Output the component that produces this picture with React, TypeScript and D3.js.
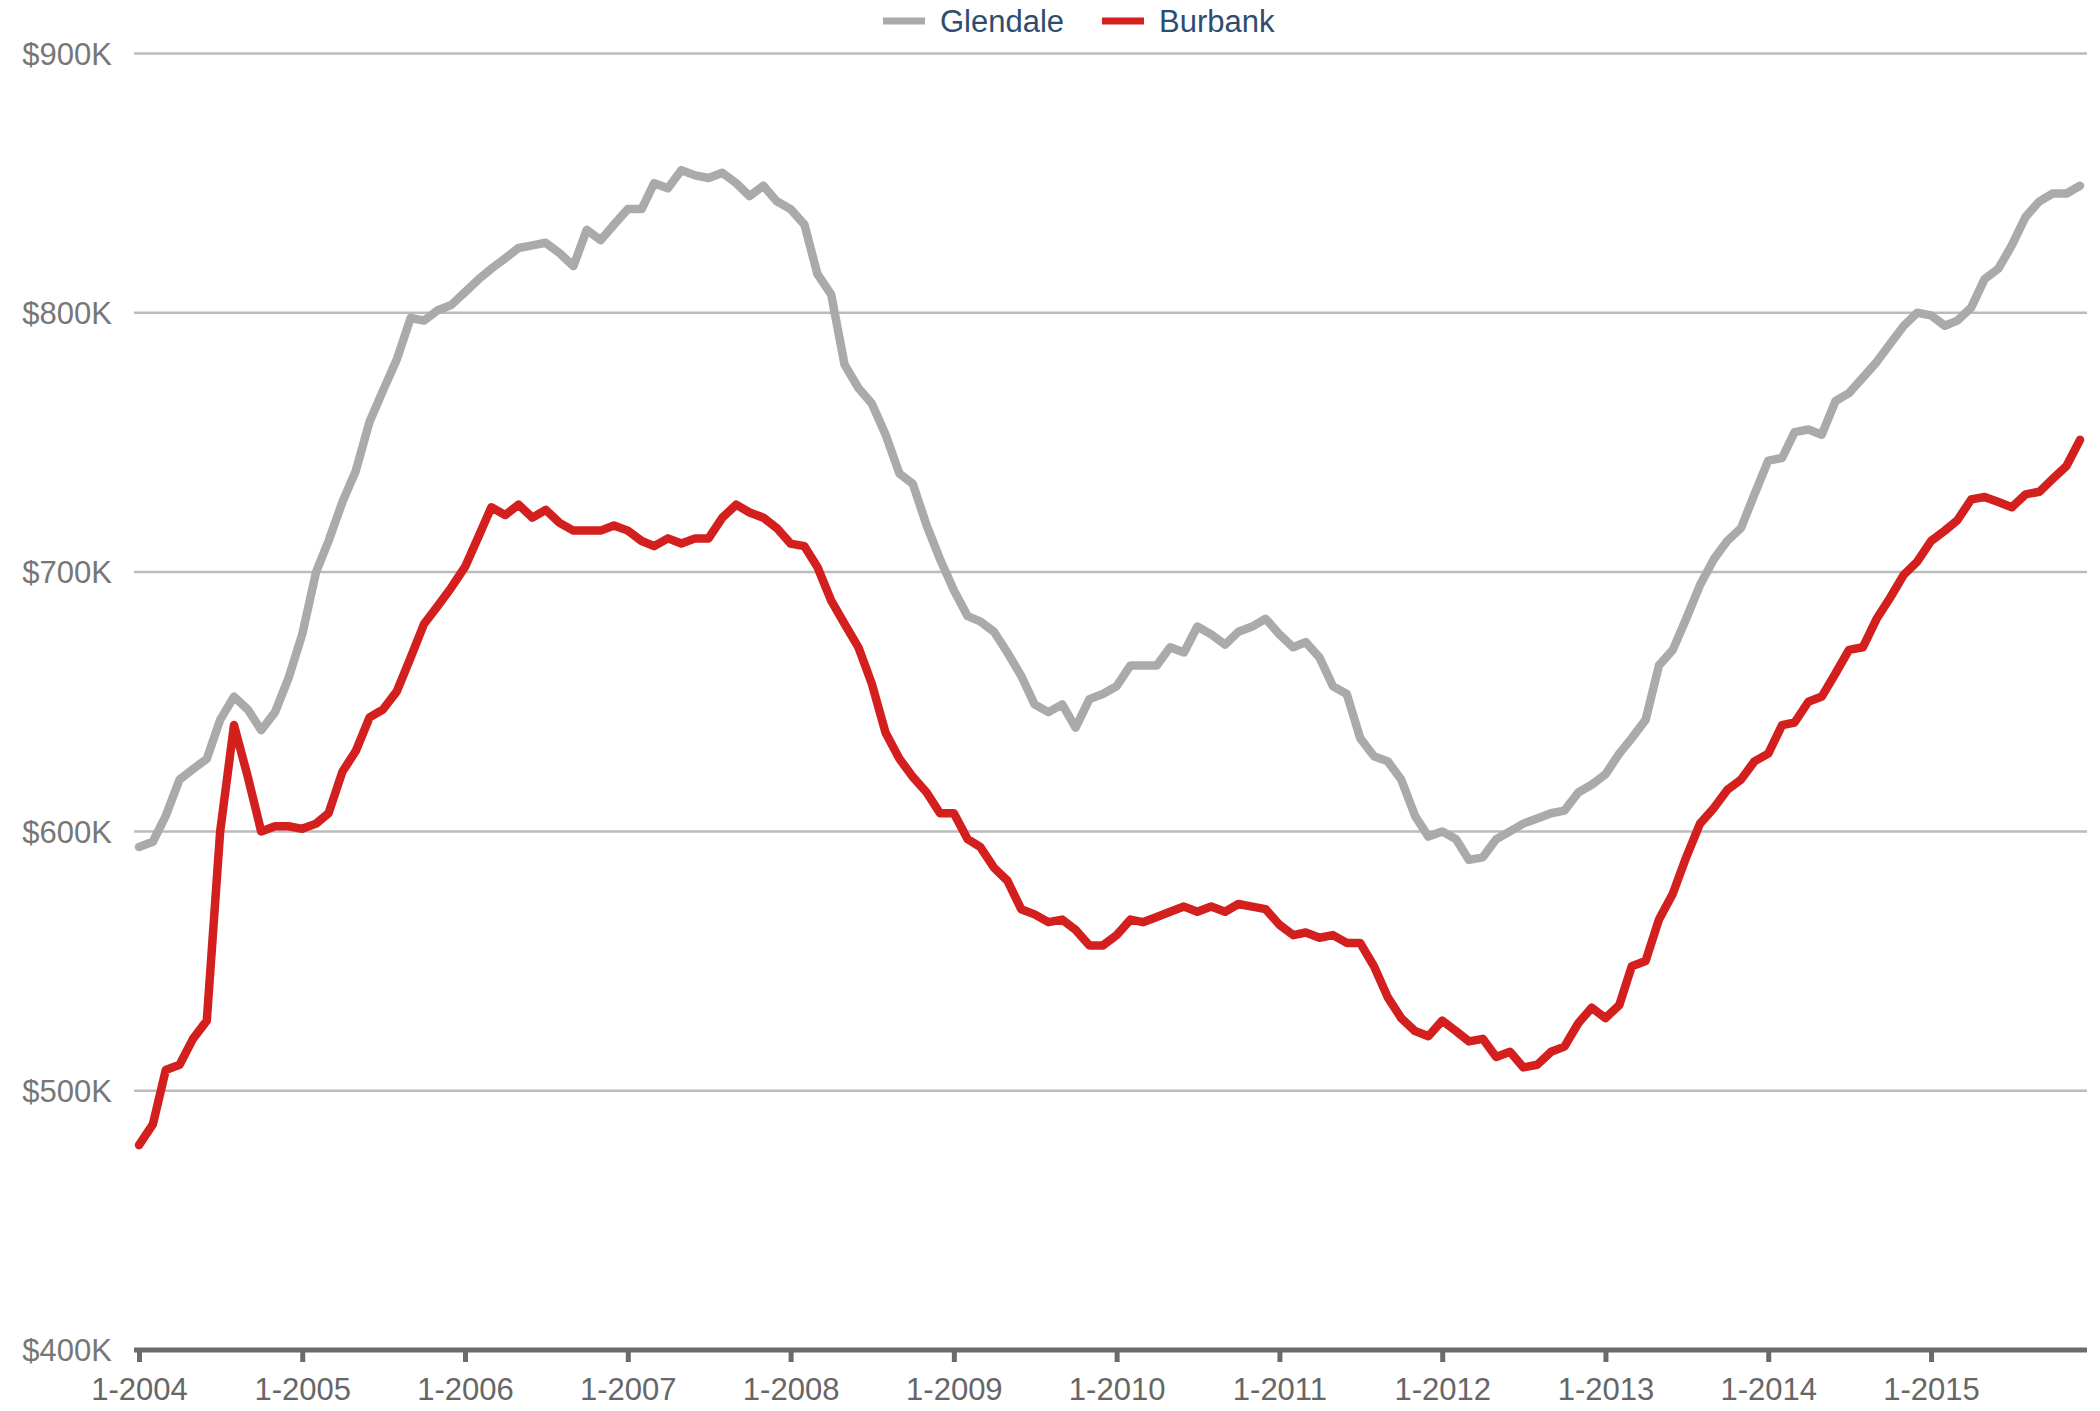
import React, { useEffect, useRef } from 'react';
import * as d3 from 'd3';

// monthly median prices, Jan 2004 .. Dec 2015 (in $K)
const glendale = [
  594, 596, 606, 620, 624, 628, 643, 652, 647, 639, 646, 659,
  676, 700, 712, 727, 739, 758, 770, 782, 798, 797, 801, 803,
  808, 813, 817, 821, 825, 826, 827, 823, 818, 832, 828, 834,
  840, 840, 850, 848, 855, 853, 852, 854, 850, 845, 849, 843,
  840, 834, 815, 807, 780, 771, 765, 753, 738, 734, 718, 705,
  693, 683, 681, 677, 669, 660, 649, 646, 649, 640, 651, 653,
  656, 664, 664, 664, 671, 669, 679, 676, 672, 677, 679, 682,
  676, 671, 673, 667, 656, 653, 636, 629, 627, 620, 606, 598,
  600, 597, 589, 590, 597, 600, 603, 605, 607, 608, 615, 618,
  622, 630, 636, 643, 664, 670, 682, 695, 705, 712, 717, 730,
  743, 744, 754, 755, 753, 766, 769, 775, 781, 788, 795, 800,
  799, 795, 797, 802, 813, 817, 826, 837, 843, 846, 846, 849,
];

const burbank = [
  479, 487, 508, 510, 520, 527, 600, 641, 621, 600, 602, 602,
  601, 603, 607, 623, 631, 644, 647, 654, 667, 680, 687, 694,
  702, 714, 725, 722, 726, 721, 724, 719, 716, 716, 716, 718,
  716, 712, 710, 713, 711, 713, 713, 721, 726, 723, 721, 717,
  711, 710, 702, 689, 680, 671, 657, 638, 628, 621, 615, 607,
  607, 597, 594, 586, 581, 570, 568, 565, 566, 562, 556, 556,
  560, 566, 565, 567, 569, 571, 569, 571, 569, 572, 571, 570,
  564, 560, 561, 559, 560, 557, 557, 548, 536, 528, 523, 521,
  527, 523, 519, 520, 513, 515, 509, 510, 515, 517, 526, 532,
  528, 533, 548, 550, 566, 576, 590, 603, 609, 616, 620, 627,
  630, 641, 642, 650, 652, 661, 670, 671, 682, 690, 699, 704,
  712, 716, 720, 728, 729, 727, 725, 730, 731, 736, 741, 751,
];

const seriesNames = ['Glendale', 'Burbank'];
const seriesColors = ['#aaaaaa', '#d41f1f'];
const yTicks = [400, 500, 600, 700, 800, 900];
const tickYears = d3.range(2004, 2016);

const App = () => {
  const chartRef = useRef(null);

  useEffect(() => {
    document.body.style.margin = '0';

    const width = 2100;
    const height = 1411;
    const left = 139;
    const right = 2080;
    const top = 53.5;
    const bottom = 1350;
    const font = '"Liberation Sans", Arial, sans-serif';

    const months = d3.timeMonth.range(new Date(2004, 0, 1), new Date(2016, 0, 1));

    const x = d3
      .scaleTime()
      .domain([months[0], months[months.length - 1]])
      .range([left, right]);

    const y = d3.scaleLinear().domain([400, 900]).range([bottom, top]);

    const svg = d3
      .select(chartRef.current)
      .append('svg')
      .attr('width', width)
      .attr('height', height)
      .style('display', 'block')
      .style('font-family', font);

    // gridlines
    svg
      .append('g')
      .selectAll('line')
      .data(yTicks.slice(1))
      .enter()
      .append('line')
      .attr('x1', 134)
      .attr('x2', 2087)
      .attr('y1', (d) => y(d))
      .attr('y2', (d) => y(d))
      .attr('stroke', '#bbbbbb')
      .attr('stroke-width', 2.5);

    // y labels
    svg
      .append('g')
      .selectAll('text')
      .data(yTicks)
      .enter()
      .append('text')
      .attr('x', 112)
      .attr('y', (d) => y(d))
      .attr('dy', '0.36em')
      .attr('text-anchor', 'end')
      .attr('fill', '#777')
      .attr('font-size', 31)
      .text((d) => `$${d}K`);

    // x axis
    const xAxis = svg
      .append('g')
      .attr('transform', `translate(0, ${bottom})`)
      .call(
        d3
          .axisBottom(x)
          .tickValues(tickYears.map((yr) => new Date(yr, 0, 1)))
          .tickSize(12)
          .tickSizeOuter(0)
          .tickPadding(16)
          .tickFormat((d) => `1-${d.getFullYear()}`)
      );
    xAxis.select('.domain').remove();
    xAxis
      .append('line')
      .attr('x1', 134)
      .attr('x2', 2087)
      .attr('stroke', '#6b6b6b')
      .attr('stroke-width', 5);
    xAxis.selectAll('.tick line').attr('stroke', '#6b6b6b').attr('stroke-width', 5);
    xAxis
      .selectAll('.tick text')
      .attr('fill', '#666')
      .attr('font-size', 31)
      .attr('font-family', font);

    const line = d3
      .line()
      .x((d, i) => x(months[i]))
      .y((d) => y(d));

    [glendale, burbank].forEach((vals, k) => {
      svg
        .append('path')
        .datum(vals)
        .attr('fill', 'none')
        .attr('stroke', seriesColors[k])
        .attr('stroke-width', 8.5)
        .attr('stroke-linejoin', 'round')
        .attr('stroke-linecap', 'round')
        .attr('d', line);
    });

    // legend
    const legend = svg.append('g').attr('transform', 'translate(0, 21)');
    const legendX = [883, 1102];
    seriesNames.forEach((name, k) => {
      legend
        .append('rect')
        .attr('x', legendX[k])
        .attr('y', -3.5)
        .attr('width', 42)
        .attr('height', 7)
        .attr('fill', seriesColors[k]);
      legend
        .append('text')
        .attr('x', legendX[k] + 57)
        .attr('y', 0)
        .attr('dy', '0.35em')
        .attr('fill', '#2e4d6e')
        .attr('font-size', 31)
        .text(name);
    });

    return () => {
      svg.remove();
    };
  }, []);

  return <div ref={chartRef}></div>;
};

export default App;
